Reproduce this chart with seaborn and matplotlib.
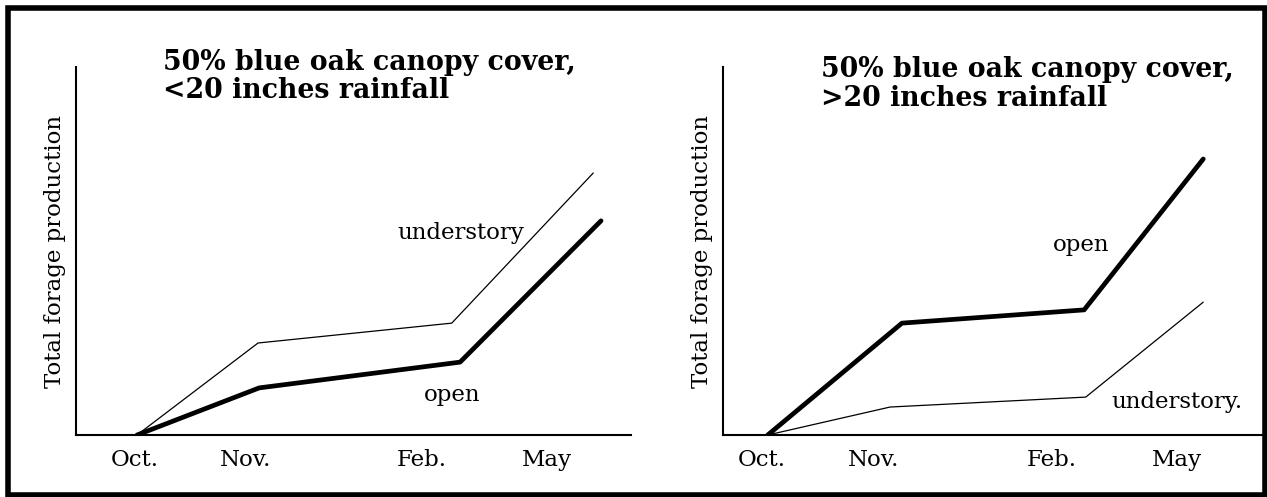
import numpy as np
import pandas as pd
import matplotlib
matplotlib.use("Agg")
import matplotlib.pyplot as plt
from matplotlib.patches import Rectangle
import seaborn as sns

# schematic time axis (0-100 across each panel), values in relative units
months = ["Oct.", "Nov.", "Feb.", "May"]

low_tick_pos = [10.5, 30.5, 62.3, 84.9]
low_under_x = [11.0, 32.8, 67.7, 93.2]
low_under_y = [0.0, 25.0, 30.4, 71.2]
low_open_x = [11.0, 33.0, 69.2, 94.6]
low_open_y = [0.0, 12.8, 19.8, 58.2]

high_tick_pos = [7.2, 28.0, 60.9, 84.2]
high_open_x = [8.3, 33.2, 67.0, 89.1]
high_open_y = [0.0, 30.4, 34.0, 75.0]
high_under_x = [8.3, 31.0, 67.3, 89.1]
high_under_y = [0.0, 7.6, 10.3, 36.1]

sns.set_style("white")
plt.rcParams['font.family'] = ['DejaVu Serif', 'DejaVu Sans']
plt.rcParams['text.color'] = 'black'
plt.rcParams['axes.labelcolor'] = 'black'
plt.rcParams['xtick.color'] = 'black'

W, H = 1267, 497
fig = plt.figure(figsize=(W / 100, H / 100), dpi=100)

ax1 = fig.add_axes([76 / W, (H - 435) / H, 555 / W, 368 / H])
ax2 = fig.add_axes([723 / W, (H - 435) / H, 539 / W, 368 / H])

thin, thick = 0.9, 3.4
fs = 16.5


def draw_panel(ax, series, ticks, title, labels):
    for xs, ys, lw in series:
        df = pd.DataFrame({"x": xs, "y": ys})
        sns.lineplot(data=df, x="x", y="y", ax=ax, color="black",
                     linewidth=lw, sort=False, solid_capstyle="round")
    ax.set_xlim(0, 100)
    ax.set_ylim(0, 100)
    ax.set_xticks(ticks)
    ax.set_xticklabels(months, fontsize=fs, color="black")
    ax.set_yticks([])
    ax.tick_params(axis="x", length=0, pad=10)
    ax.set_xlabel("")
    ax.set_ylabel("Total forage production", fontsize=fs, labelpad=7, color="black")
    for side in ["top", "right"]:
        ax.spines[side].set_visible(False)
    for side in ["left", "bottom"]:
        ax.spines[side].set_color("black")
        ax.spines[side].set_linewidth(1.5)
    tx, ty = title[1], title[2]
    ax.text(tx, ty, title[0], transform=ax.transAxes, fontsize=19.3,
            fontweight="bold", va="top", ha="left", linespacing=1.08,
            color="black")
    for txt, x, y in labels:
        ax.text(x, y, txt, fontsize=fs, ha="center", va="center", color="black")


draw_panel(ax1,
           [(low_under_x, low_under_y, thin), (low_open_x, low_open_y, thick)],
           low_tick_pos,
           ("50% blue oak canopy cover,\n<20 inches rainfall", 0.157, 1.05),
           [("understory", 69.4, 54.9), ("open", 67.7, 10.9)])

draw_panel(ax2,
           [(high_open_x, high_open_y, thick), (high_under_x, high_under_y, thin)],
           high_tick_pos,
           ("50% blue oak canopy cover,\n>20 inches rainfall", 0.182, 1.03),
           [("open", 66.4, 51.6), ("understory.", 84.2, 9.0)])

# outer frame
x0, x1 = 7.5 / W, 1264.5 / W
y0, y1 = (H - 494.5) / H, (H - 7.5) / H
fig.patches.append(Rectangle((x0, y0), x1 - x0, y1 - y0, transform=fig.transFigure,
                             fill=False, edgecolor="black", linewidth=4))

fig.savefig("out.png", dpi=100)
